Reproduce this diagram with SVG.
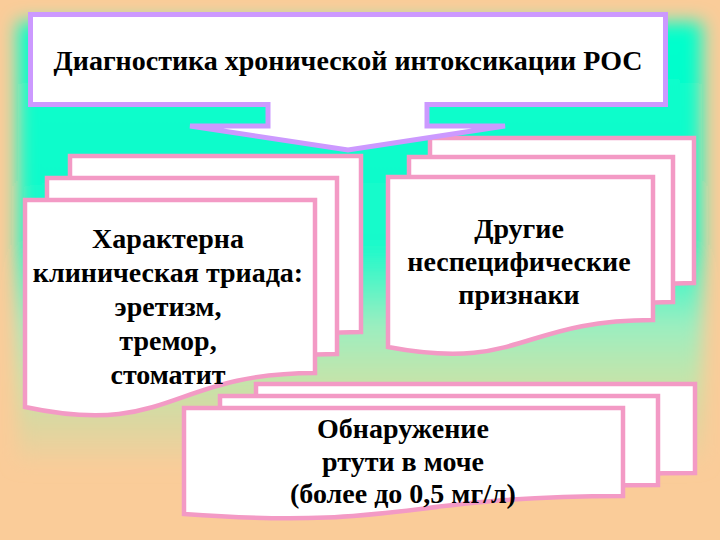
<svg xmlns="http://www.w3.org/2000/svg" width="720" height="540" viewBox="0 0 720 540">
<defs>
<linearGradient id="bg" gradientUnits="userSpaceOnUse" x1="0" y1="20" x2="0" y2="470">
<stop offset="0" stop-color="#00FFCC"/>
<stop offset="0.5" stop-color="#18FACB"/>
<stop offset="0.68" stop-color="#9CEEC0"/>
<stop offset="0.8" stop-color="#C4E4AA"/>
<stop offset="0.9" stop-color="#DDD6A0"/>
<stop offset="1" stop-color="#FACC99"/>
</linearGradient>
<filter id="soft" x="-10%" y="-10%" width="120%" height="120%">
<feGaussianBlur stdDeviation="9"/>
</filter>
<style>
.doc{fill:#FFFFFF;stroke:#F39AC5;stroke-width:4.5;stroke-linejoin:miter}
.title{fill:#FFFFFF;stroke:#CC99FF;stroke-width:5;stroke-linejoin:miter}
</style>
</defs>
<rect x="0" y="0" width="720" height="540" fill="#FACC99"/>
<rect x="18" y="22" width="684" height="440" fill="url(#bg)" filter="url(#soft)"/>

<g id="node-bottom">
<path class="doc" d="M256,384 H695 V473 C475.5,473 475.5,509 256,492 Z"/>
<path class="doc" d="M220,396 H658 V485 C439,485 439,521 220,504 Z"/>
<path class="doc" d="M184,408 H623 V496 C403.5,496 403.5,530 184,514 Z"/>
<g font-family="Liberation Serif" font-size="28" font-weight="bold" text-anchor="middle" fill="#000000">
<text x="403" y="438">Обнаружение</text>
<text x="403" y="471">ртути в моче</text>
<text x="403" y="503">(более до 0,5 мг/л)</text>
</g>
</g>

<g id="node-left">
<path class="doc" d="M70,156 H361 V332 C215.5,332 215.5,397 70,366 Z"/>
<path class="doc" d="M47,178 H337 V354 C192,354 192,419 47,388 Z"/>
<path class="doc" d="M25,200 H315 V373 C170,373 170,438 25,407 Z"/>
<g font-family="Liberation Serif" font-size="28" font-weight="bold" text-anchor="middle" fill="#000000">
<text x="168" y="248">Характерна</text>
<text x="168" y="282">клиническая триада:</text>
<text x="168" y="316">эретизм,</text>
<text x="168" y="350">тремор,</text>
<text x="168" y="384">стоматит</text>
</g>
</g>

<g id="node-right">
<path class="doc" d="M430,138 H694 V283 C562,283 562,335 430,310 Z"/>
<path class="doc" d="M409,157 H673 V302 C541,302 541,354 409,329 Z"/>
<path class="doc" d="M388,177 H653 V320 C520.5,320 520.5,372 388,347 Z"/>
<g font-family="Liberation Serif" font-size="28" font-weight="bold" text-anchor="middle" fill="#000000">
<text x="519" y="238">Другие</text>
<text x="519" y="271">неспецифические</text>
<text x="519" y="304">признаки</text>
</g>
</g>

<g id="node-title">
<path class="title" d="M30.5,14.5 H665.5 V104.5 H427 V126 H505 L348,150 L190,126 H268 V104.5 H30.5 Z"/>
<text x="348" y="70" font-family="Liberation Serif" font-size="28" font-weight="bold" text-anchor="middle" fill="#000000">Диагностика хронической интоксикации РОС</text>
</g>

<g id="connectors"></g>
</svg>
